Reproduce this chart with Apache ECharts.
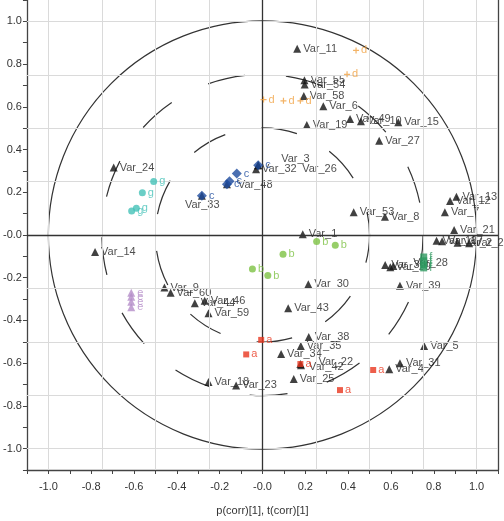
<!DOCTYPE html>
<html lang="en">
<head>
<meta charset="UTF-8">
<title>Loadings</title>
<style>
  html, body { margin: 0; padding: 0; background: #fff; }
  #chart { width: 504px; height: 521px; }
</style>
</head>
<body>
<div id="chart"></div>
<script src="https://cdn.jsdelivr.net/npm/echarts@6/dist/echarts.min.js"></script>
<script>
// variables (black triangles)
var varNames = ['Var_1', 'Var_2', 'Var_3', 'Var_4', 'Var_5', 'Var_6', 'Var_7', 'Var_8', 'Var_9', 'Var_10',
    'Var_11', 'Var_12', 'Var_13', 'Var_14', 'Var_15', 'Var_16', 'Var_17', 'Var_18', 'Var_19', 'Var_20',
    'Var_21', 'Var_22', 'Var_23', 'Var_24', 'Var_25', 'Var_26', 'Var_27', 'Var_28', 'Var_29', 'Var_30',
    'Var_31', 'Var_32', 'Var_33', 'Var_34', 'Var_35', 'Var_36', 'Var_38', 'Var_39', 'Var_42', 'Var_43',
    'Var_44', 'Var_46', 'Var_48', 'Var_49', 'Var_53', 'Var_54', 'Var_55', 'Var_58', 'Var_59', 'Var_60'];
var varX = [0.188, 0.911, -0.02, 0.592, 0.755, 0.284, 0.852, 0.572, -0.458, 0.46,
    0.162, 0.876, 0.906, -0.782, 0.634, 0.813, 0.839, -0.252, 0.207, 0.965,
    0.895, 0.177, -0.123, -0.695, 0.146, -0.02, 0.545, 0.611, 0.597, 0.214,
    0.642, -0.03, -0.283, 0.087, 0.179, 0.573, 0.216, 0.642, 0.18, 0.12,
    -0.316, -0.27, -0.166, 0.409, 0.426, 0.197, 0.196, 0.193, -0.252, -0.429];
var varY = [0.003, -0.036, 0.327, -0.628, -0.519, 0.603, 0.106, 0.086, -0.246, 0.533,
    0.872, 0.159, 0.179, -0.079, 0.528, -0.027, -0.029, -0.688, 0.515, -0.039,
    0.023, -0.604, -0.704, 0.316, -0.674, 0.327, 0.441, -0.145, -0.151, -0.23,
    -0.6, 0.308, 0.184, -0.557, -0.519, -0.14, -0.478, -0.238, -0.61, -0.343,
    -0.319, -0.308, 0.238, 0.543, 0.106, 0.704, 0.724, 0.651, -0.366, -0.27];

// observation groups
var groupA = [[-0.006, -0.491], [-0.076, -0.559], [0.177, -0.604], [0.517, -0.632], [0.362, -0.726]];
var groupB = [[0.253, -0.031], [0.34, -0.048], [0.096, -0.09], [-0.047, -0.159], [0.025, -0.19]];
var groupC = [[-0.02, 0.327], [-0.12, 0.288], [-0.154, 0.252], [-0.166, 0.238], [-0.283, 0.184]];
var groupD = [[0.437, 0.864], [0.395, 0.752], [0.005, 0.634], [0.098, 0.628], [0.177, 0.628]];
var groupE = [[-0.613, -0.27], [-0.613, -0.289], [-0.613, -0.312], [-0.613, -0.338]];
var groupF = [[0.753, -0.103], [0.753, -0.121], [0.753, -0.14], [0.753, -0.154]];
var groupG = [[-0.508, 0.251], [-0.561, 0.198], [-0.589, 0.125], [-0.611, 0.112]];

var gridValues = [-1, -0.75, -0.5, -0.25, 0.25, 0.5, 0.75, 1];
var circleRadii = [1, 0.75, 0.5];

// label nudges for points hidden under other markers
var labelShift = {
    Var_3: [17, -6], Var_26: [38, 4], Var_33: [-23, 9], Var_22: [12, -2],
    Var_42: [2, 2], Var_28: [14, -3], Var_48: [5, 1]
};

var FONT = 'Liberation Sans';
var TXT = '#222';
var plus = 'path://M2,0h1v2h2v1h-2v2h-1v-2h-2v-1h2z';

var groups = [
    { letter: 'a', data: groupA, symbol: 'rect', size: 6, color: '#e8361e' },
    { letter: 'b', data: groupB, symbol: 'circle', size: 7, color: '#7dc243' },
    { letter: 'c', data: groupC, symbol: 'diamond', size: 10, color: '#1d4b9e' },
    { letter: 'd', data: groupD, symbol: plus, size: 6, color: '#f0a040' },
    { letter: 'e', data: groupE, symbol: 'triangle', size: 8, color: '#b48cc8' },
    { letter: 'f', data: groupF, symbol: 'rect', size: 7, color: '#2e9a60' },
    { letter: 'g', data: groupG, symbol: 'circle', size: 7, color: '#45c2b8' }
];

function tickLabel(v) {
    var k = Math.round(v * 10);
    if (k % 2 !== 0) return '';
    if (k === 0) return '-0.0';
    return (k / 10).toFixed(1);
}

function valueAxis(extra) {
    var ax = {
        type: 'value', min: -1.1, max: 1.1, interval: 0.1,
        axisLine: { show: true, onZero: false, lineStyle: { color: '#444', width: 1.3 } },
        axisTick: { show: true, length: 4, lineStyle: { color: '#444' } },
        axisLabel: { formatter: tickLabel, color: '#333', fontSize: 11, fontFamily: FONT },
        splitLine: { show: false }
    };
    return Object.assign(ax, extra);
}

var varData = varNames.map(function (n, i) {
    var item = { name: n, value: [varX[i], varY[i]] };
    if (labelShift[n]) item.label = { offset: labelShift[n] };
    return item;
});

var gridLines = [];
gridValues.forEach(function (v) {
    gridLines.push({ xAxis: v });
    gridLines.push({ yAxis: v });
});

var series = [
    {
        type: 'scatter', z: 1, silent: true, symbolSize: 0, data: [[0, 0]],
        markLine: {
            silent: true, symbol: 'none', animation: false,
            label: { show: false },
            lineStyle: { color: '#dadada', width: 1, type: 'solid' },
            data: gridLines
        }
    },
    {
        type: 'scatter', z: 2, silent: true, symbolSize: 0, data: [[0, 0]],
        markLine: {
            silent: true, symbol: 'none', animation: false,
            label: { show: false },
            lineStyle: { color: '#333', width: 1.3, type: 'solid' },
            data: [{ xAxis: 0 }, { yAxis: 0 }]
        }
    },
    {
        type: 'custom', z: 3, silent: true, data: [[0, 0]],
        renderItem: function (params, api) {
            var c = api.coord([0, 0]);
            var dash = [null, [38, 41], [36, 37]];
            var offs = [0, 10, 8];
            return {
                type: 'group',
                children: circleRadii.map(function (r, i) {
                    return {
                        type: 'circle',
                        shape: { cx: c[0], cy: c[1], r: api.size([r, 0])[0] },
                        style: { fill: 'none', stroke: '#333', lineWidth: 1.2, lineDash: dash[i], lineDashOffset: offs[i] }
                    };
                })
            };
        }
    },
    {
        type: 'scatter', z: 4, name: 'vars', symbol: 'triangle', symbolSize: 8,
        itemStyle: { color: '#111' },
        label: { show: true, position: 'right', distance: 2, formatter: '{b}', color: TXT, fontSize: 11, fontFamily: FONT },
        data: varData
    }
];

groups.forEach(function (g) {
    series.push({
        type: 'scatter', z: 5, name: g.letter, symbol: g.symbol, symbolSize: g.size,
        itemStyle: { color: g.color },
        label: { show: true, position: 'right', distance: 2, formatter: g.letter, color: g.color, fontSize: 11, fontFamily: FONT },
        data: g.data
    });
});

var chart = echarts.init(document.getElementById('chart'), null, { renderer: 'canvas' });
chart.setOption({
    animation: false,
    backgroundColor: '#fff',
    grid: { left: 26, right: 6, top: 0, bottom: 51, containLabel: false },
    xAxis: valueAxis({
        position: 'bottom',
        name: 'p(corr)[1], t(corr)[1]', nameLocation: 'middle', nameGap: 35,
        nameTextStyle: { color: '#333', fontSize: 11, fontFamily: FONT },
        axisLabel: { formatter: tickLabel, color: '#333', fontSize: 11, fontFamily: FONT, margin: 11 }
    }),
    yAxis: [
        valueAxis({
            position: 'left',
            axisLabel: { formatter: tickLabel, color: '#333', fontSize: 11, fontFamily: FONT, margin: 5 }
        }),
        {
            type: 'value', min: -1.1, max: 1.1, position: 'right',
            axisLine: { show: true, onZero: false, lineStyle: { color: '#444', width: 1.3 } },
            axisTick: { show: false }, axisLabel: { show: false }, splitLine: { show: false }
        }
    ],
    series: series
});
</script>
</body>
</html>
